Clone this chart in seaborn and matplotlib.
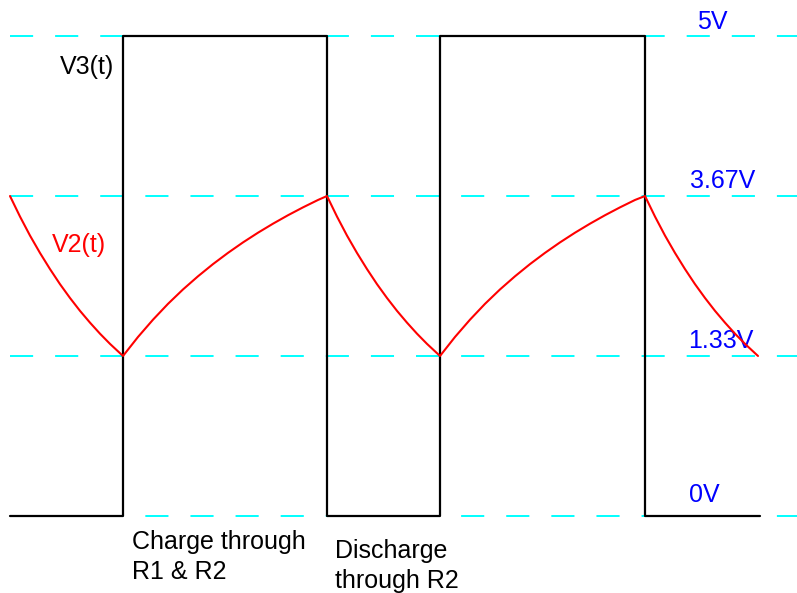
import matplotlib.pyplot as plt
import seaborn as sns

sns.set_theme(style="white")
plt.rcParams["font.family"] = ["Liberation Sans", "DejaVu Sans"]

# Square wave V3(t): switching times and voltage held after each edge
edge_times = [0, 113, 317, 430, 635, 750]
v3_levels = [0, 5, 0, 5, 0]

# Capacitor voltage V2(t)
disch0_t = [0, 10, 20, 30, 40, 50, 60, 70, 80, 90, 100, 113]
disch0_v = [3.333, 3.119, 2.921, 2.740, 2.572, 2.415, 2.271, 2.137, 2.014, 1.899, 1.793, 1.667]
charge1_t = [128, 143, 158, 173, 188, 203, 218, 233, 248, 263, 278, 293, 308, 317]
charge1_v = [1.865, 2.045, 2.21, 2.36, 2.497, 2.624, 2.741, 2.85, 2.951, 3.045, 3.133, 3.215, 3.292, 3.333]
disch1_t = [327, 337, 347, 357, 367, 377, 387, 397, 407, 417, 430]
disch1_v = [3.119, 2.921, 2.740, 2.572, 2.415, 2.271, 2.137, 2.014, 1.899, 1.793, 1.667]
charge2_t = [445, 460, 475, 490, 505, 520, 535, 550, 565, 580, 595, 610, 625, 635]
charge2_v = [1.865, 2.045, 2.21, 2.36, 2.497, 2.624, 2.741, 2.85, 2.951, 3.045, 3.133, 3.215, 3.292, 3.333]
disch2_t = [645, 655, 665, 675, 685, 695, 705, 715, 725, 735, 748]
disch2_v = [3.119, 2.921, 2.740, 2.572, 2.415, 2.271, 2.137, 2.014, 1.899, 1.793, 1.667]

# Dashed reference levels and their labels
ref_levels = [5, 3.333, 1.667, 0]
ref_labels = ["5V", "3.67V", "1.33V", "0V"]

v2_t = disch0_t + charge1_t + disch1_t + charge2_t + disch2_t
v2_v = disch0_v + charge1_v + disch1_v + charge2_v + disch2_v

fig = plt.figure(figsize=(7.97, 5.93), dpi=100)
ax = fig.add_axes([0, 0, 1, 1])
ax.set_xlim(-10, 787)
ax.set_ylim(-77 / 96, 516 / 96)
ax.axis("off")

for lvl in ref_levels:
    ax.plot([0, 787], [lvl, lvl], color="#00ffff", lw=1.4,
            dashes=[11.9, 11.3], zorder=1)

sns.lineplot(x=edge_times, y=v3_levels + [v3_levels[-1]], ax=ax,
             color="black", lw=1.6, drawstyle="steps-post", zorder=3)
sns.lineplot(x=v2_t, y=v2_v, ax=ax, sort=False, estimator=None,
             color="red", lw=1.5, zorder=4)

fs = 18
ax.text(50, 4.604, "V3(t)", color="black", fontsize=fs)
ax.text(42, 2.75, "V2(t)", color="red", fontsize=fs)

label_x = [687, 680, 678, 679]
label_y = [5.073, 3.417, 1.75, 0.146]
for x, y, s in zip(label_x, label_y, ref_labels):
    ax.text(x, y, s, color="blue", fontsize=fs)

ax.text(122, -0.344, "Charge through", color="black", fontsize=fs)
ax.text(122, -0.656, "R1 & R2", color="black", fontsize=fs)
ax.text(325, -0.4375, "Discharge", color="black", fontsize=fs)
ax.text(325, -0.75, "through R2", color="black", fontsize=fs)

plt.savefig("out.png", dpi=100)
